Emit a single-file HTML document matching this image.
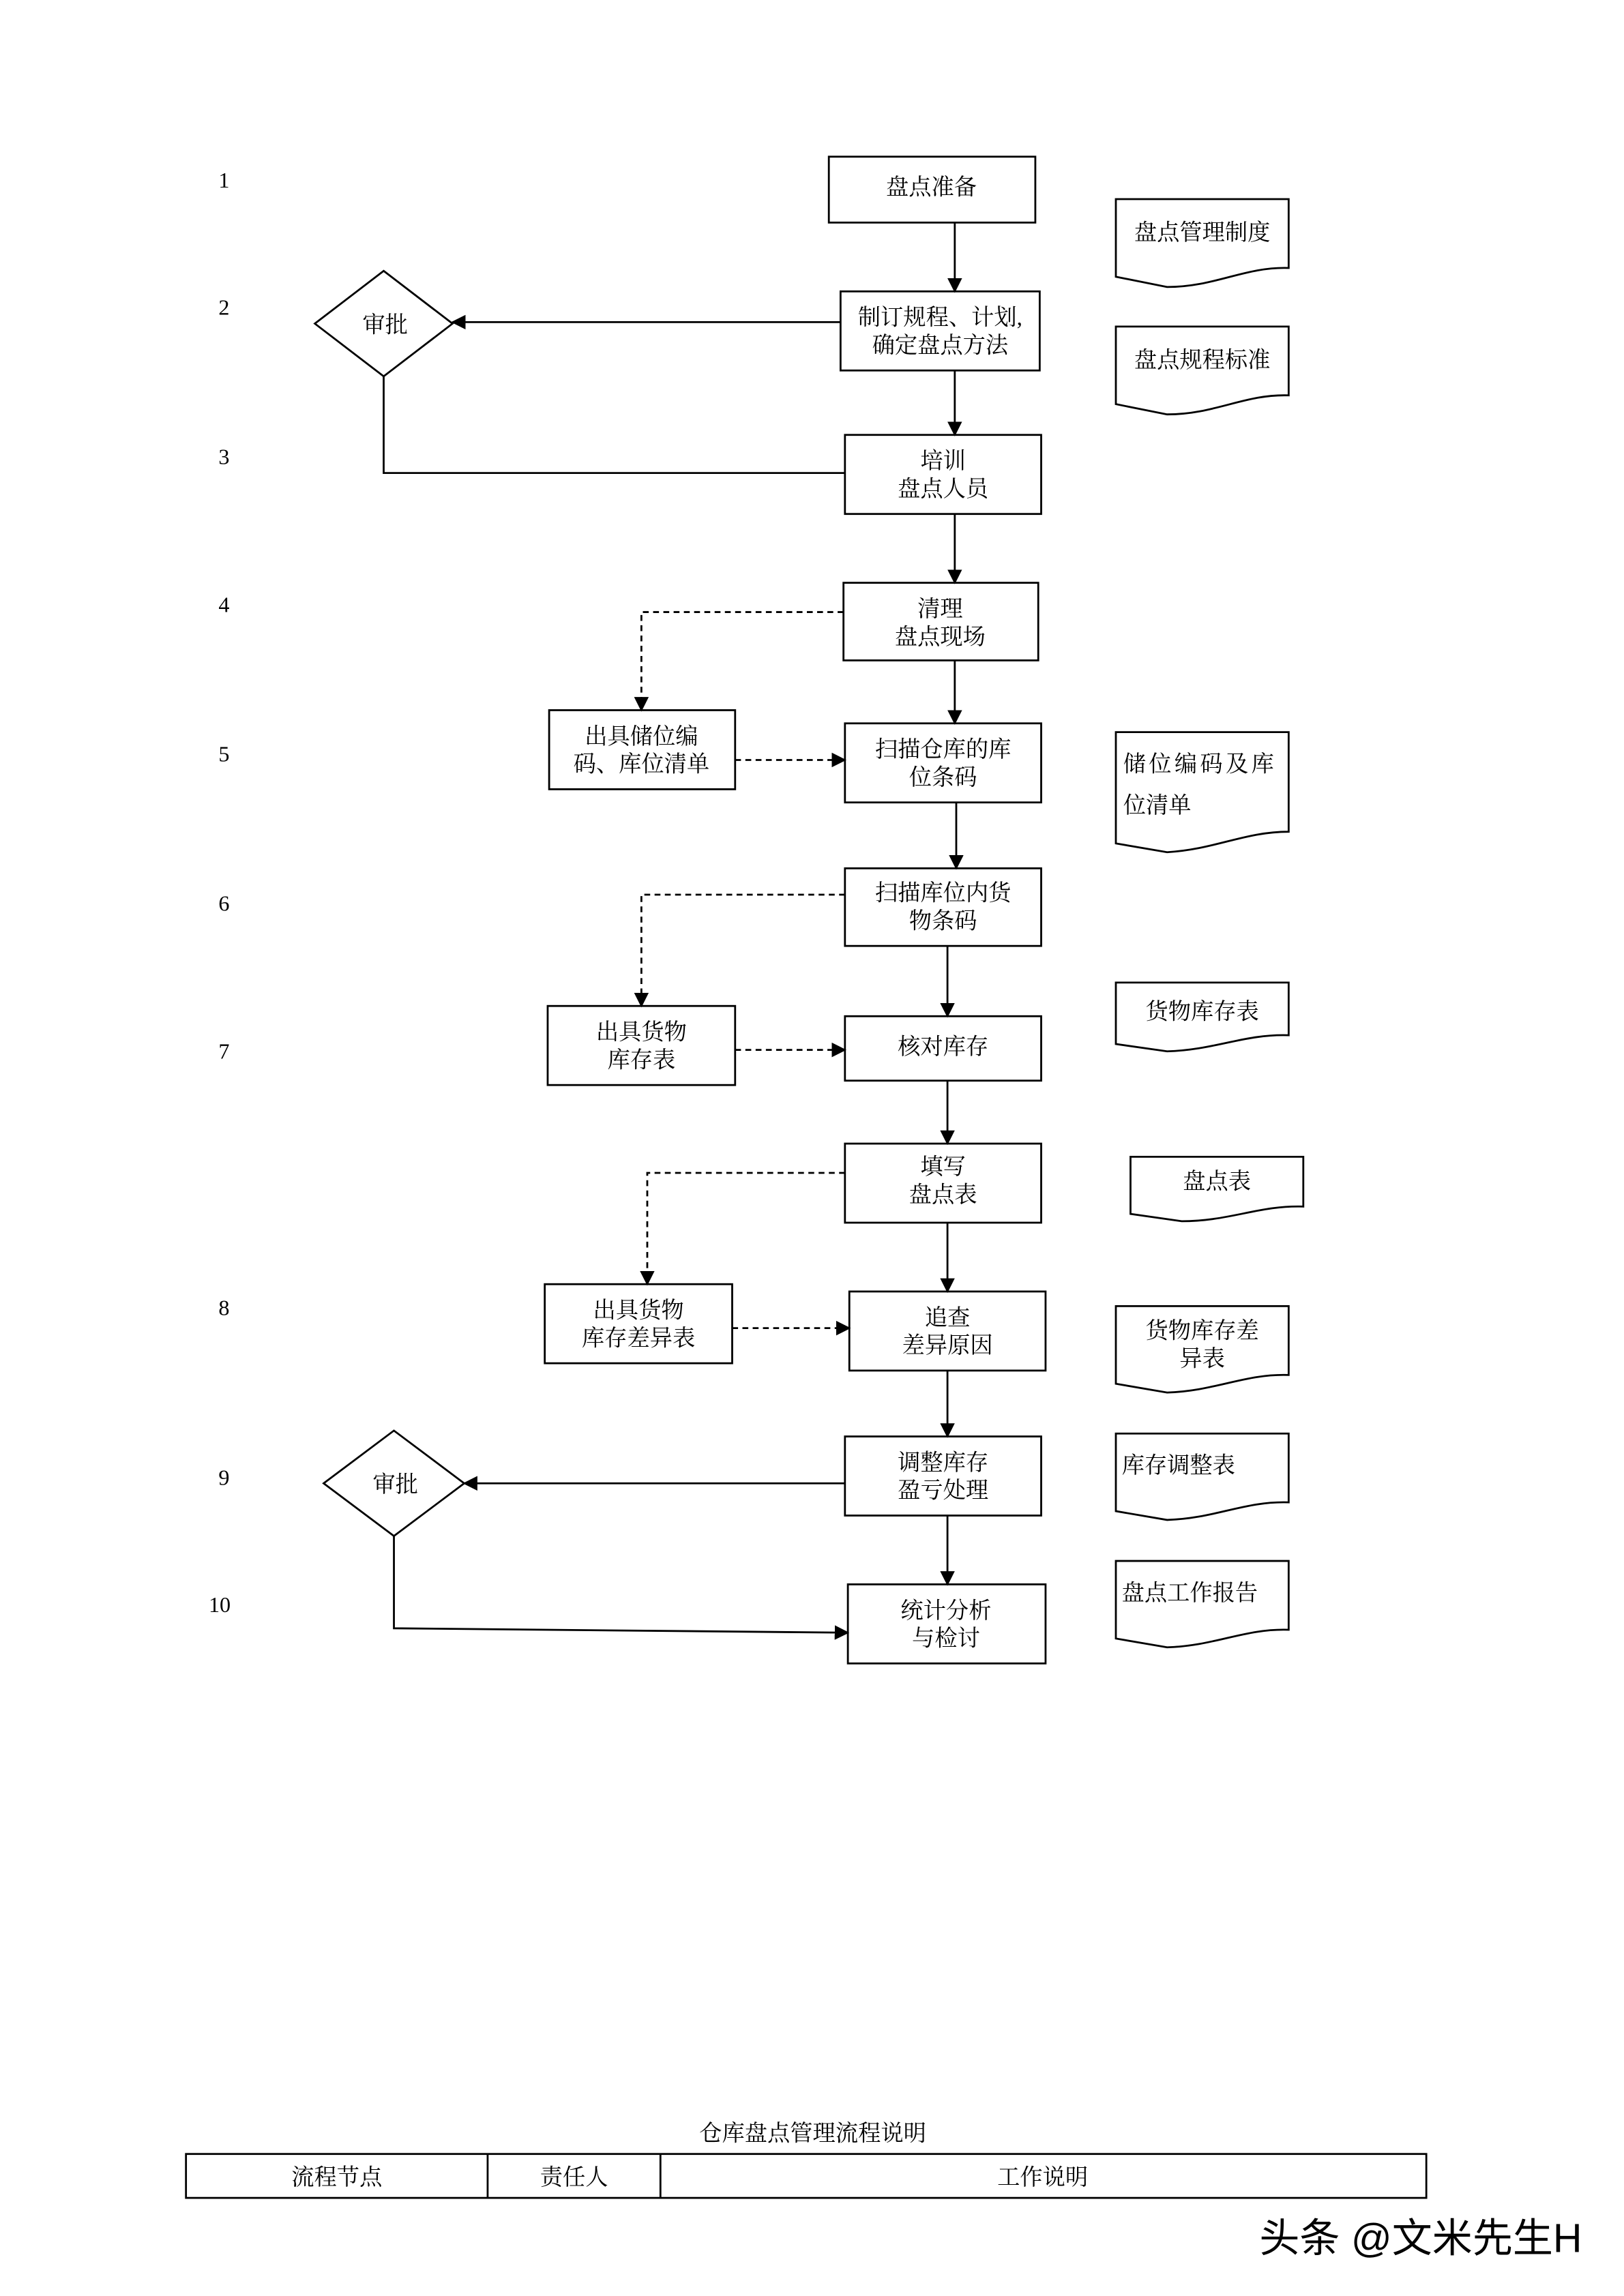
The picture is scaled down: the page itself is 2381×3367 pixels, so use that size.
<!DOCTYPE html>
<html><head><meta charset="utf-8"><style>
html,body{margin:0;padding:0;background:#fff;}
svg{display:block;}
text{font-family:"Liberation Serif","Noto Serif CJK SC",serif;fill:#000;}
</style></head><body>
<svg width="2381" height="3367" viewBox="0 0 1109 1568" preserveAspectRatio="none" xmlns="http://www.w3.org/2000/svg">
<defs>
<marker id="ar" markerWidth="10" markerHeight="10" refX="9" refY="5" orient="auto" markerUnits="userSpaceOnUse"><path d="M0,0 L10,5 L0,10 Z" fill="#000"/></marker>
</defs>
<g fill="none" stroke="#000" stroke-width="1.3">
<rect x="566" y="107" width="141" height="45"/>
<rect x="574" y="199" width="136" height="54"/>
<rect x="577" y="297" width="134" height="54"/>
<rect x="576" y="398" width="133" height="53"/>
<rect x="577" y="494" width="134" height="54"/>
<rect x="577" y="593" width="134" height="53"/>
<rect x="577" y="694" width="134" height="44"/>
<rect x="577" y="781" width="134" height="54"/>
<rect x="580" y="882" width="134" height="54"/>
<rect x="577" y="981" width="134" height="54"/>
<rect x="579" y="1082" width="135" height="54"/>
<rect x="375" y="485" width="127" height="54"/>
<rect x="374" y="687" width="128" height="54"/>
<rect x="372" y="877" width="128" height="54"/>
<path d="M262,185 L309,221 L262,257 L215,221 Z"/>
<path d="M269,977 L317,1013 L269,1049 L221,1013 Z"/>
<path d="M762,136 H880 V183 C850,182 830,196 797,196 L762,189 Z"/>
<path d="M762,223 H880 V270 C850,269 830,283 797,283 L762,276 Z"/>
<path d="M762,500 H880 V568 C850,568 830,580 797,582 L762,576 Z"/>
<path d="M762,671 H880 V707 C850,706 830,717 797,718 L762,713 Z"/>
<path d="M772,790 H890 V824 C860,823 840,834 807,834 L772,829 Z"/>
<path d="M762,892 H880 V939 C850,938 830,950 797,951 L762,945 Z"/>
<path d="M762,979 H880 V1026 C850,1025 830,1037 797,1038 L762,1032 Z"/>
<path d="M762,1066 H880 V1113 C850,1112 830,1124 797,1125 L762,1119 Z"/>
<path d="M652,152 V199" marker-end="url(#ar)"/>
<path d="M574,220 H309" marker-end="url(#ar)"/>
<path d="M262,257 V323 H577"/>
<path d="M652,253 V297" marker-end="url(#ar)"/>
<path d="M652,351 V398" marker-end="url(#ar)"/>
<path d="M652,451 V494" marker-end="url(#ar)"/>
<path d="M653,548 V593" marker-end="url(#ar)"/>
<path d="M647,646 V694" marker-end="url(#ar)"/>
<path d="M647,738 V781" marker-end="url(#ar)"/>
<path d="M647,835 V882" marker-end="url(#ar)"/>
<path d="M647,936 V981" marker-end="url(#ar)"/>
<path d="M577,1013 H317" marker-end="url(#ar)"/>
<path d="M647,1035 V1082" marker-end="url(#ar)"/>
<path d="M269,1049 V1112 L579,1115" marker-end="url(#ar)"/>
<g stroke-dasharray="4,3">
<path d="M576,418 H438 V485" marker-end="url(#ar)"/>
<path d="M502,519 H577" marker-end="url(#ar)"/>
<path d="M577,611 H438 V687" marker-end="url(#ar)"/>
<path d="M502,717 H577" marker-end="url(#ar)"/>
<path d="M577,801 H442 V877" marker-end="url(#ar)"/>
<path d="M500,907 H580" marker-end="url(#ar)"/>
</g>
<rect x="127" y="1471" width="847" height="30"/>
<path d="M333,1471 V1501 M451,1471 V1501"/>
</g>
<g font-size="15.5" text-anchor="middle">
<text x="636" y="133">盘点准备</text>
<text x="642" y="222">制订规程、计划,</text>
<text x="642" y="241">确定盘点方法</text>
<text x="644" y="320">培训</text>
<text x="644" y="339">盘点人员</text>
<text x="642" y="421">清理</text>
<text x="642" y="440">盘点现场</text>
<text x="644" y="517">扫描仓库的库</text>
<text x="644" y="536">位条码</text>
<text x="644" y="615">扫描库位内货</text>
<text x="644" y="634">物条码</text>
<text x="644" y="720">核对库存</text>
<text x="644" y="802">填写</text>
<text x="644" y="821">盘点表</text>
<text x="647" y="905">追查</text>
<text x="647" y="924">差异原因</text>
<text x="644" y="1004">调整库存</text>
<text x="644" y="1023">盈亏处理</text>
<text x="646" y="1105">统计分析</text>
<text x="646" y="1124">与检讨</text>
<text x="438" y="508">出具储位编</text>
<text x="438" y="527">码、库位清单</text>
<text x="438" y="710">出具货物</text>
<text x="438" y="729">库存表</text>
<text x="436" y="900">出具货物</text>
<text x="436" y="919">库存差异表</text>
<text x="263" y="227">审批</text>
<text x="270" y="1019">审批</text>
<text x="821" y="164">盘点管理制度</text>
<text x="821" y="251">盘点规程标准</text>
<text x="821" y="696">货物库存表</text>
<text x="831" y="812">盘点表</text>
<text x="821" y="914">货物库存差</text>
<text x="821" y="933">异表</text>
<text x="555" y="1462">仓库盘点管理流程说明</text>
<text x="230" y="1492">流程节点</text>
<text x="392" y="1492">责任人</text>
<text x="712" y="1492">工作说明</text>
</g>
<g font-size="15.5" text-anchor="start">
<text x="767" y="527" letter-spacing="2">储位编码及库</text>
<text x="767" y="555">位清单</text>
<text x="766" y="1006">库存调整表</text>
<text x="766" y="1093">盘点工作报告</text>
</g>
<g font-size="15" text-anchor="middle">
<text x="153" y="128">1</text>
<text x="153" y="215">2</text>
<text x="153" y="317">3</text>
<text x="153" y="418">4</text>
<text x="153" y="520">5</text>
<text x="153" y="622">6</text>
<text x="153" y="723">7</text>
<text x="153" y="898">8</text>
<text x="153" y="1014">9</text>
<text x="150" y="1101">10</text>
</g>
<text x="860" y="1538" font-size="27.5" style="font-family:'Liberation Sans','Noto Sans CJK SC',sans-serif" fill="#222">头条 @文米先生H</text>
</svg>
</body></html>
